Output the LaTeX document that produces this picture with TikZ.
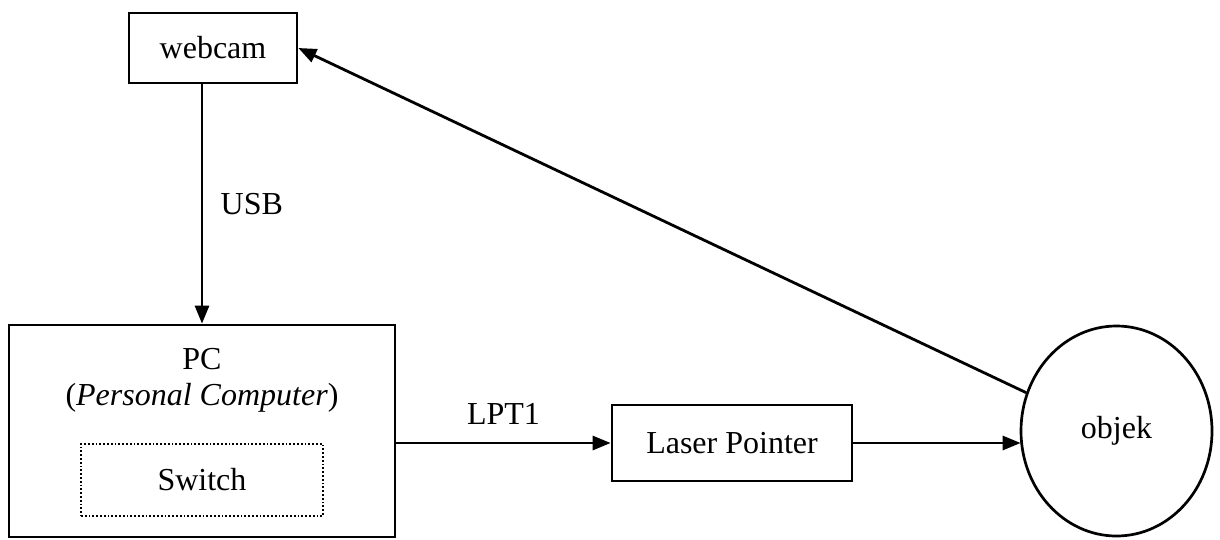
\documentclass[tikz,border=0pt]{standalone}
\usepackage{fontspec}
\setmainfont{Liberation Serif}
\usetikzlibrary{arrows.meta,shapes.geometric}
\begin{document}
\begin{tikzpicture}[x=1pt,y=-1pt,
  box/.style={draw,line width=2.7pt,inner sep=0pt},
  conn/.style={line width=2.8pt,-{Triangle[length=18pt,width=14pt]}},
  lbl/.style={font=\fontsize{32}{36}\selectfont},
  every node/.style={font=\fontsize{32}{36}\selectfont}]
\useasboundingbox (0,0) rectangle (1220,539);
\node[box,minimum width=168pt,minimum height=70pt] (webcam) at (213,48) {webcam};
\node[box,minimum width=386pt,minimum height=212pt] (pc) at (202,431) {};
\node[align=center] (pctext) at (202,380) {PC\\(\textit{Personal Computer})};
\node[draw,dotted,line width=1.8pt,minimum width=242pt,minimum height=72pt] (switch) at (202,480) {Switch};
\node[box,minimum width=240pt,minimum height=76pt] (laser) at (732,443) {Laser Pointer};
\node[draw,ellipse,line width=2.7pt,minimum width=191pt,minimum height=210pt,inner sep=0pt] (obj) at (1116.5,431) {objek};
\draw[conn] (webcam.south -| pc.north) -- node[lbl,right=14pt] (usb) {USB} (pc.north);
\draw[conn] (pc.east |- laser.west) -- node[lbl,above=14pt] (lpt) {LPT1} (laser.west);
\draw[conn] (laser.east) -- ([xshift=1pt]laser.east -| obj.west);
\draw[conn] (obj.157) -- (webcam.east);
\end{tikzpicture}
\end{document}
